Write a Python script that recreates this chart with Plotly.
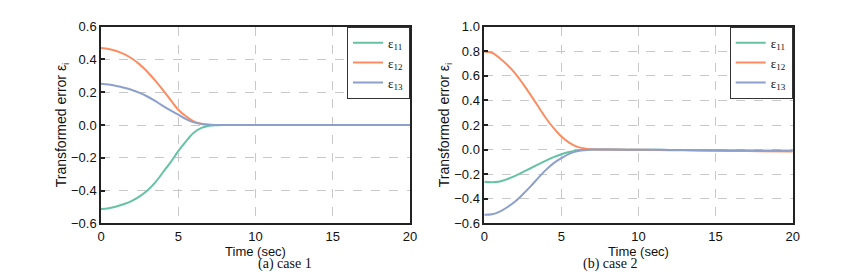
import plotly.graph_objects as go

t = [0, 0.5, 1, 1.5, 2, 2.5, 3, 3.5, 4, 4.5, 5, 5.5, 6, 6.5, 7, 7.5, 8, 10, 12, 14, 16, 18, 20]

# case 1
c1_e11 = [-0.513, -0.508, -0.497, -0.482, -0.463, -0.436, -0.400, -0.352, -0.290, -0.228, -0.160, -0.100, -0.048, -0.018, -0.004, -0.001, 0.0, 0.0, 0.0, 0.0, 0.0, 0.0, 0.0]
c1_e12 = [0.470, 0.464, 0.452, 0.432, 0.406, 0.370, 0.325, 0.272, 0.214, 0.153, 0.093, 0.053, 0.022, 0.008, 0.002, 0.0, 0.0, 0.0, 0.0, 0.0, 0.0, 0.0, 0.0]
c1_e13 = [0.252, 0.247, 0.238, 0.227, 0.214, 0.196, 0.174, 0.147, 0.117, 0.089, 0.063, 0.036, 0.016, 0.006, 0.001, 0.0, 0.0, 0.0, 0.0, 0.0, 0.0, 0.0, 0.0]

# case 2
c2_e11 = [-0.262, -0.266, -0.260, -0.240, -0.214, -0.184, -0.152, -0.121, -0.090, -0.062, -0.038, -0.020, -0.008, -0.002, 0.0, 0.0, 0.0, -0.001, -0.003, -0.005, -0.007, -0.009, -0.010]
c2_e12 = [0.797, 0.788, 0.743, 0.688, 0.621, 0.537, 0.445, 0.350, 0.255, 0.174, 0.106, 0.057, 0.024, 0.008, 0.002, 0.0, 0.0, -0.002, -0.005, -0.008, -0.011, -0.013, -0.016]
c2_e13 = [-0.531, -0.527, -0.505, -0.468, -0.423, -0.364, -0.300, -0.230, -0.165, -0.110, -0.070, -0.035, -0.014, -0.005, 0.0, 0.0, 0.0, -0.001, -0.003, -0.005, -0.007, -0.009, -0.010]

names = ["ε<sub>11</sub>", "ε<sub>12</sub>", "ε<sub>13</sub>"]
colors = ["#66c2a5", "#fc8d62", "#8da0cb"]
captions = ["(a) case 1", "(b) case 2"]

fig = go.Figure()
for ys, col, nm in zip([c1_e11, c1_e12, c1_e13], colors, names):
    fig.add_trace(go.Scatter(x=t, y=ys, mode="lines", name=nm, line=dict(color=col, width=2, shape="spline"),
                             xaxis="x", yaxis="y", legend="legend"))
for ys, col, nm in zip([c2_e11, c2_e12, c2_e13], colors, names):
    fig.add_trace(go.Scatter(x=t, y=ys, mode="lines", name=nm, line=dict(color=col, width=2, shape="spline"),
                             xaxis="x2", yaxis="y2", legend="legend2"))

W, H = 857, 275
OFF = 8  # page body margin
xd1 = [(101 - OFF) / W, (410 - OFF) / W]
xd2 = [(484.3 - OFF) / W, (792.7 - OFF) / W]
yd = [(H - (223.3 - OFF)) / H, (H - (26.7 - OFF)) / H]

ax_common = dict(showline=True, linecolor="#222", linewidth=1.5, mirror=True, automargin=False,
                 showgrid=True, gridcolor="#c8c8c8", griddash="dash", gridwidth=1,
                 zeroline=False, tickfont=dict(family="Liberation Sans, Arial", size=13, color="#111"))

xcommon = dict(ax_common, range=[0, 20], tickvals=[0, 5, 10, 15, 20], ticks="",
               title=dict(text="Time (sec)", standoff=0,
                          font=dict(family="Liberation Sans, Arial", size=13, color="#111")))
ycommon = dict(ax_common, ticks="inside", ticklen=4, tickcolor="#222", tickwidth=1.5,
               title=dict(text="Transformed error ε<sub>i</sub>", standoff=1,
                          font=dict(family="Liberation Sans, Arial", size=14, color="#111")))

legend_common = dict(bgcolor="white", bordercolor="#333", borderwidth=1,
                     font=dict(family="Liberation Serif, Times New Roman", size=13, color="#111"),
                     yanchor="top", xanchor="right", y=yd[1], itemwidth=30, tracegroupgap=0)

fig.update_layout(
    width=W, height=H, margin=dict(l=0, r=0, t=0, b=0, autoexpand=False),
    paper_bgcolor="white", plot_bgcolor="white",
    xaxis=dict(xcommon, domain=xd1, anchor="y"),
    yaxis=dict(ycommon, domain=yd, anchor="x", range=[-0.6, 0.6], tickvals=[-0.6, -0.4, -0.2, 0, 0.2, 0.4, 0.6],
               tickformat=".1f"),
    xaxis2=dict(xcommon, domain=xd2, anchor="y2"),
    yaxis2=dict(ycommon, domain=yd, anchor="x2", range=[-0.6, 1.0],
                tickvals=[-0.6, -0.4, -0.2, 0, 0.2, 0.4, 0.6, 0.8, 1.0], tickformat=".1f"),
    legend=dict(legend_common, x=xd1[1]),
    legend2=dict(legend_common, x=xd2[1]),
    showlegend=True,
)

for cap, xd in zip(captions, [xd1, xd2]):
    fig.add_annotation(text=cap, xref="paper", yref="paper", x=(xd[0] + xd[1]) / 2, y=(H - (264 - OFF)) / H,
                       showarrow=False, yanchor="middle",
                       font=dict(family="Liberation Serif, Times New Roman", size=14, color="#111"))

fig.write_html("out.html")
